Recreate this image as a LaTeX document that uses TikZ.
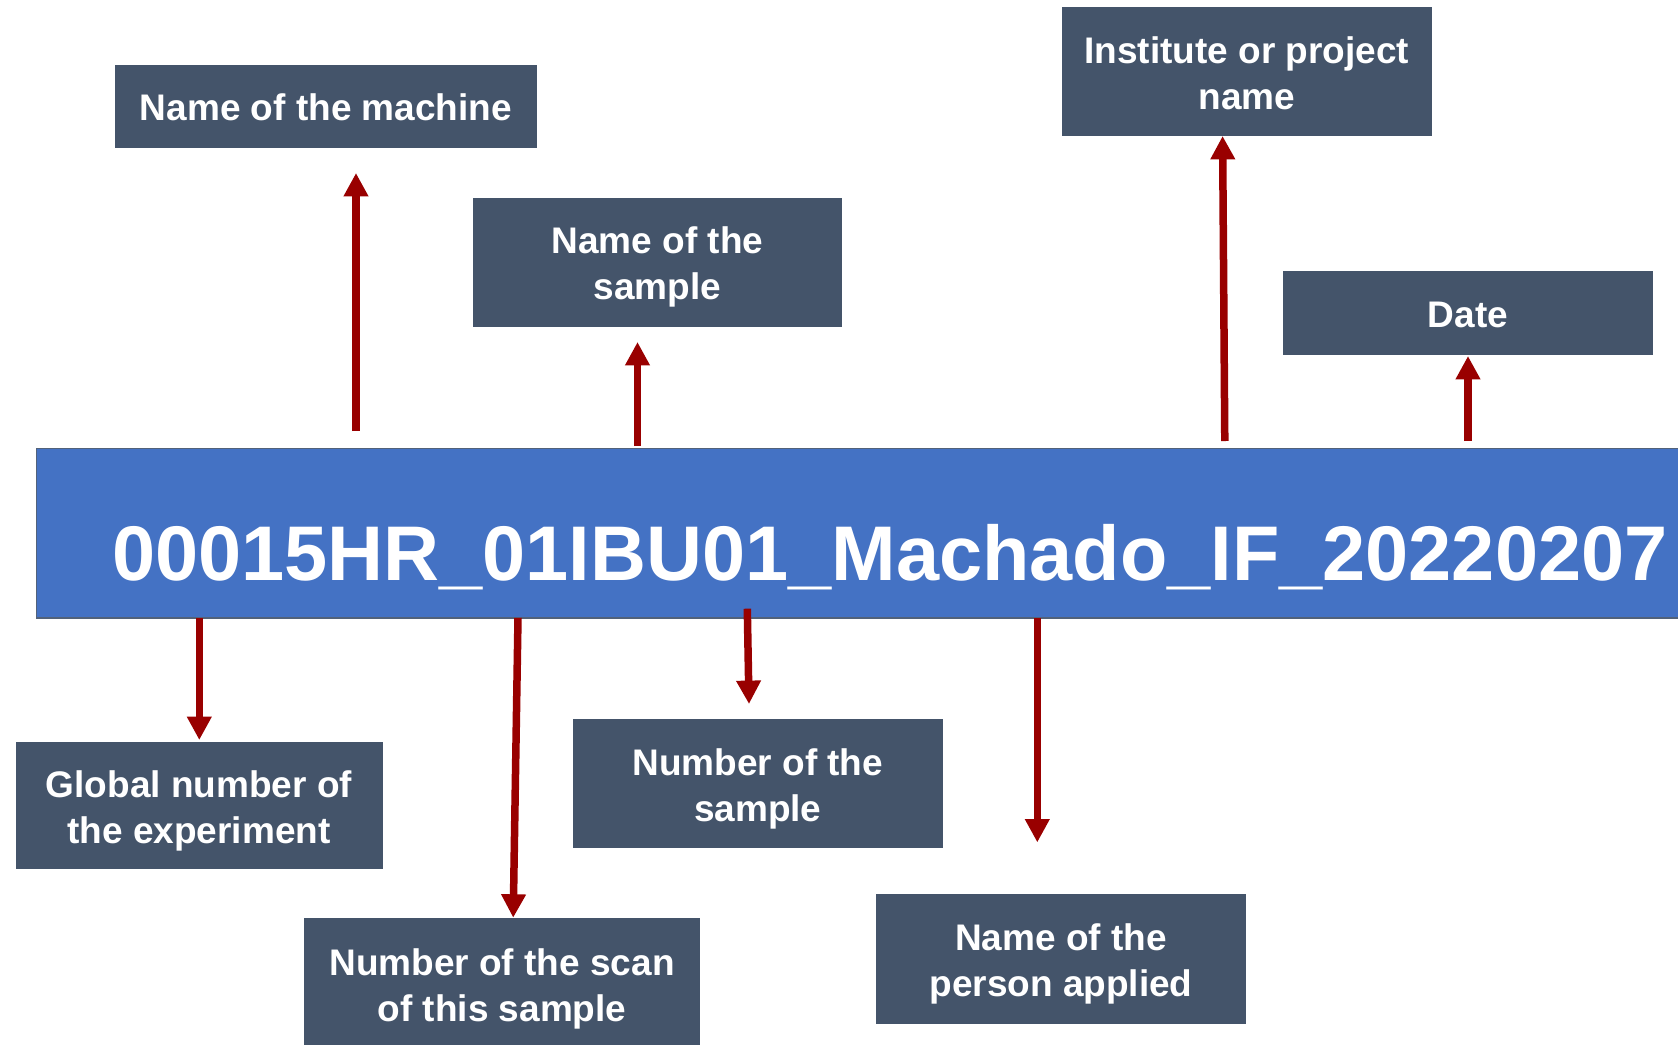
\documentclass[tikz,border=0pt]{standalone}
\usepackage{fontspec}
\setmainfont{Liberation Sans}
\usetikzlibrary{arrows.meta}
\definecolor{boxgray}{HTML}{44546A}
\definecolor{mainblue}{HTML}{4472C4}
\definecolor{mainedge}{HTML}{52627A}
\definecolor{arrred}{HTML}{990000}
\newcommand\lstrut{\rule[-4.25pt]{0pt}{23pt}}
\begin{document}
\begin{tikzpicture}[x=0.5pt,y=-0.5pt,
  gbox/.style={fill=boxgray, inner sep=0pt, text=white,
    font=\fontsize{18.5}{23}\selectfont\bfseries, align=center},
  mainbox/.style={fill=mainblue, draw=mainedge, line width=0.8pt, inner sep=0pt},
  arr/.style={draw=arrred, line width=3.75pt, -{Triangle[length=11.7pt,width=11.7pt]}}]
\useasboundingbox (0,0) rectangle (1678,1045);

% main file name bar
\node[mainbox, anchor=north west, minimum width=832.2pt, minimum height=84.65pt] (main) at (35.7,447.7) {};
\node[anchor=base, inner sep=0pt, text=white, font=\fontsize{38.75}{46}\selectfont\bfseries] (fname) at (890,580) {00015HR\_01IBU01\_Machado\_IF\_20220207};

% label boxes
\node[gbox, minimum width=210.8pt, minimum height=41.6pt] (machine) at (326,106.3) {\lstrut Name of the machine};
\node[gbox, minimum width=184.5pt, minimum height=64.5pt] (sname) at (657.5,262) {\lstrut Name of the\\\lstrut sample};
\node[gbox, minimum width=184.8pt, minimum height=64.5pt] (inst) at (1246.8,71.5) {\lstrut Institute or project\\\lstrut name};
\node[gbox, minimum width=185pt, minimum height=42.1pt] (date) at (1468,312.7) {\lstrut Date};
\node[gbox, minimum width=183.5pt, minimum height=63.5pt] (global) at (199,805.5) {\lstrut Global number of\\\lstrut the experiment};
\node[gbox, minimum width=198pt, minimum height=66pt] (scan) at (502,984) {\lstrut Number of the scan\\\lstrut of this sample};
\node[gbox, minimum width=184.7pt, minimum height=64.5pt] (numsample) at (757.8,783.5) {\lstrut Number of the\\\lstrut sample};
\node[gbox, minimum width=185pt, minimum height=64.75pt] (person) at (1061,958.8) {\lstrut Name of the\\\lstrut person applied};

% arrow ends
\coordinate (m1) at (356,431);    \coordinate (m2) at (356,173);
\coordinate (s1) at (637.5,446);  \coordinate (s2) at (637.5,342);
\coordinate (i1) at (1224.8,441); \coordinate (i2) at (1222.6,136);
\coordinate (d1) at (1468,441);   \coordinate (d2) at (1468,356);
\coordinate (g1) at (199.3,617.8); \coordinate (g2) at (199.3,740);
\coordinate (c1) at (518,617.8);  \coordinate (c2) at (513.2,917.7);
\coordinate (n1) at (747.3,608.7); \coordinate (n2) at (749,704);
\coordinate (p1) at (1037.3,617.8); \coordinate (p2) at (1037.3,842.4);

\draw[arr] (m1) -- (m2);
\draw[arr] (s1) -- (s2);
\draw[arr] (i1) -- (i2);
\draw[arr] (d1) -- (d2);
\draw[arr] (g1) -- (g2);
\draw[arr] (c1) -- (c2);
\draw[arr] (n1) -- (n2);
\draw[arr] (p1) -- (p2);
\end{tikzpicture}
\end{document}
